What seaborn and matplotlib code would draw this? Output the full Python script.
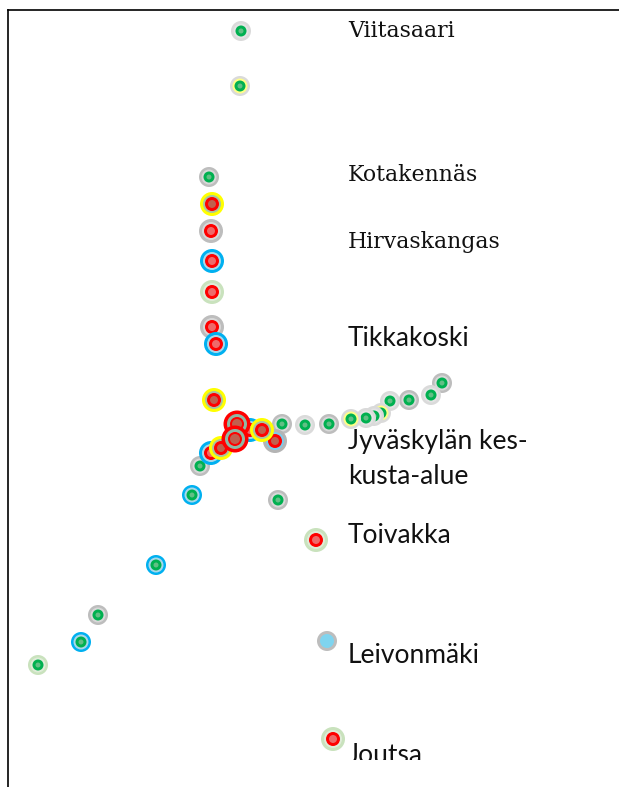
import matplotlib
matplotlib.use("Agg")
import matplotlib.pyplot as plt
import pandas as pd
import seaborn as sns
from matplotlib.patches import Rectangle

# Map positions of the stops
stop_x = [241, 240, 209, 212, 211, 212, 212, 212, 216, 214,
          442, 431, 409, 390, 381, 374, 366, 351, 329, 305, 282,
          278, 200, 192, 156, 98, 81, 38, 316, 327, 333,
          250, 275, 211, 221, 237, 235, 262]
stop_y = [31, 86, 177, 204, 231, 261, 292, 327, 344, 400,
          383, 395, 400, 401, 413, 416, 418, 419, 424, 425, 424,
          500, 466, 495, 565, 615, 642, 665, 540, 641, 739,
          430, 441, 453, 448, 424, 439, 430]
outer = ["lightgray", "halfyellow", "gray", "yellow", "gray", "blue", "pale", "gray", "blue", "yellow",
         "gray", "lightgray", "gray", "lightgray", "halfyellow", "lightgray", "lightgray", "halfyellow", "gray", "lightgray", "gray",
         "gray", "gray", "blue", "blue", "gray", "blue", "pale", "pale", "gray", "pale",
         "blue", "grayblue", "blue", "yellow", "red", "red", "yellow"]
core = ["green", "green", "green", "red", "red", "red", "red", "red", "red", "red",
        "green", "green", "green", "green", "green", "green", "green", "green", "green", "green", "green",
        "green", "green", "green", "green", "green", "green", "green", "red", "none", "red",
        "red", "red", "red", "red", "red", "red", "red"]

place_names = ["Viitasaari", "Kotakennäs", "Hirvaskangas", "Tikkakoski",
               "Jyväskylän kes-", "kusta-alue", "Toivakka", "Leivonmäki", "Joutsa"]
name_x = [348, 348, 348, 348, 348, 348, 348, 348, 348]
name_y = [31, 175, 242, 338, 441, 476, 535, 655, 755]
serif_names = {"Viitasaari", "Kotakennäs", "Hirvaskangas"}

# Styles
OUTER = {"lightgray": "#dadada", "gray": "#bdbdbd", "yellow": "#ffff00", "halfyellow": "#dadada",
         "grayblue": "#b4b4b4", "blue": "#00b0f0", "pale": "#c9e2bd", "red": "#ff0000"}
MID = {"lightgray": "#e4e4e4", "gray": "#d8d8d8", "yellow": "#a9c6a0", "halfyellow": "#ffff88",
       "grayblue": "#7ecbea", "blue": "#a8d8ea", "pale": "#dfecd8", "red": "#8fb8a4"}
CORE = {"green": "#00b050", "red": "#ff0000"}
CENTRE = {"green": "#62bf85", "red": "#ee6a6a"}
R_OUT = {"green": 10, "red": 12, "none": 10}
R_MID = {"green": 7.5, "red": 9, "none": 7.5}
R_CORE = {"green": 5.5, "red": 7}
R_CENTRE = {"green": 2.5, "red": 4}
BROWN = "#c0604e"


def area(radius_px):
    return (2 * radius_px * 72 / 100) ** 2


sns.set_theme(style="white")
fig = plt.figure(figsize=(6.19, 7.87), dpi=100, facecolor="white")
ax = fig.add_axes([8 / 619, 0, 1 - 8 / 619, 1 - 10 / 787])

df = pd.DataFrame({"x": stop_x, "y": stop_y, "outer": outer, "core": core})


def dot(x, y, colour, radius, z):
    sns.scatterplot(x=[x], y=[y], color=colour, s=area(radius), linewidth=0,
                    edgecolor="none", ax=ax, legend=False, zorder=z, clip_on=False)


for i, row in df.iterrows():
    z = 2 + i * 0.01
    if row["core"] == "none":
        dot(row["x"], row["y"], OUTER[row["outer"]], 10, z)
        dot(row["x"], row["y"], "#7fd4ef", 7, z + 0.001)
        continue
    big = row["outer"] == "red"
    dot(row["x"], row["y"], OUTER[row["outer"]], 13.5 if big else R_OUT[row["core"]], z)
    dot(row["x"], row["y"], MID[row["outer"]], 10 if big else R_MID[row["core"]], z + 0.001)
    dot(row["x"], row["y"], CORE[row["core"]], R_CORE[row["core"]], z + 0.002)
    centre = BROWN if row["outer"] in ("yellow", "red", "grayblue") and row["core"] == "red" else CENTRE[row["core"]]
    dot(row["x"], row["y"], centre, 5 if big else R_CENTRE[row["core"]], z + 0.003)

ax.set_xlim(8, 619)
ax.set_ylim(787, 10)
ax.set(xlabel=None, ylabel=None, xticks=[], yticks=[])
sns.despine(ax=ax, top=False, right=True, left=False, bottom=True)
for side in ("top", "left"):
    ax.spines[side].set_color("black")
    ax.spines[side].set_linewidth(1.2)

for label, tx, ty in zip(place_names, name_x, name_y):
    is_serif = label in serif_names
    t = ax.text(tx, ty, label, va="center", ha="left", color="#111111", zorder=5,
                family="DejaVu Serif" if is_serif else "Lato",
                fontsize=15.8 if is_serif else 19)
    t.set_clip_path(Rectangle((0, 10), 619, 750, transform=ax.transData))
    t.set_clip_on(True)

fig.savefig("out.png", dpi=100)
